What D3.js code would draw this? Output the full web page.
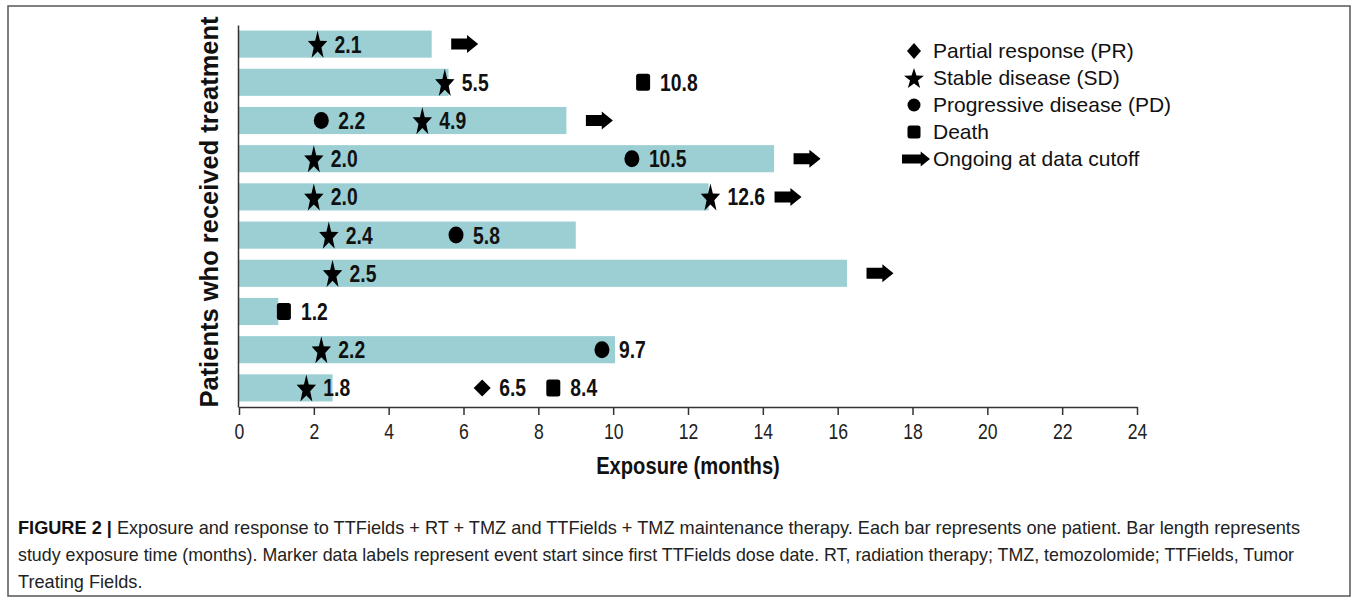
<!DOCTYPE html>
<html><head><meta charset="utf-8">
<script src="https://cdn.jsdelivr.net/npm/d3@7"></script>
<style>body{margin:0;background:#fff}</style>
</head><body><svg id="c" width="1357" height="598"></svg>
<script>
// ---- data ----
const patients = ["1","2","3","4","5","6","7","8","9","10"];
const exposure = [5.15, 5.6, 8.75, 14.3, 12.55, 9.0, 16.25, 1.05, 10.05, 2.5];
const ongoing  = [true, false, true, true, true, false, true, false, false, false];
// [patient index, months]
const partialResponse   = [[9, 6.5]];
const stableDisease     = [[0, 2.1],[1, 5.5],[2, 4.9],[3, 2.0],[4, 2.0],[4, 12.6],[5, 2.4],[6, 2.5],[8, 2.2],[9, 1.8]];
const progressiveDisease= [[2, 2.2],[3, 10.5],[5, 5.8],[8, 9.7]];
const death             = [[1, 10.8],[7, 1.2],[9, 8.4]];
const xTicks = [0,2,4,6,8,10,12,14,16,18,20,22,24];
const legendLabels = ["Partial response (PR)","Stable disease (SD)","Progressive disease (PD)","Death","Ongoing at data cutoff"];
const xTitle = "Exposure (months)";
const yTitle = "Patients who received treatment";
const captionBold = "FIGURE 2 |";
const captionLines = [
  " Exposure and response to TTFields + RT + TMZ and TTFields + TMZ maintenance therapy. Each bar represents one patient. Bar length represents",
  "study exposure time (months). Marker data labels represent event start since first TTFields dose date. RT, radiation therapy; TMZ, temozolomide; TTFields, Tumor",
  "Treating Fields."
];

// ---- drawing ----
const svg = d3.select("#c");
const SANS = "'Liberation Sans',Arial,Helvetica,sans-serif";
function condense(sel, f){
  sel.each(function(){
    const w = this.getComputedTextLength();
    this.__w = w*f;
    d3.select(this).attr("textLength", w*f).attr("lengthAdjust","spacingAndGlyphs");
  });
}

svg.append("rect").attr("x",8).attr("y",6).attr("width",1342).attr("height",590)
  .attr("fill","none").attr("stroke","#555").attr("stroke-width",1.5);

const x = d3.scaleLinear().domain([0,24]).range([239,1137]);
const y = d3.scaleBand().domain(patients).range([25,407]).paddingInner(0.29).paddingOuter(0.145);
const cy = i => y(patients[i]) + y.bandwidth()/2;

// bars
svg.append("g").selectAll("rect").data(exposure).join("rect")
  .attr("x", x(0)).attr("y",(d,i)=>y(patients[i]))
  .attr("width", d=>x(d)-x(0)).attr("height", y.bandwidth())
  .attr("fill","#9bcfd3");

// axes
const gx = svg.append("g").attr("transform",`translate(0,${407})`)
  .call(d3.axisBottom(x).tickValues(xTicks).tickSize(8).tickSizeOuter(0).tickPadding(8).tickFormat(d3.format("d")));
gx.select(".domain").attr("stroke","#333").attr("stroke-width",1.5);
gx.selectAll(".tick line").attr("stroke","#333").attr("stroke-width",1.5);
gx.selectAll(".tick text").attr("font-family",SANS).attr("font-size",22).attr("fill","#222").call(condense,0.8);

const gy = svg.append("g").attr("transform",`translate(${238},0)`)
  .call(d3.axisLeft(y).tickValues([]).tickSizeOuter(0));
gy.select(".domain").attr("stroke","#333").attr("stroke-width",1.5);

svg.append("text").attr("x",688).attr("y",474).attr("text-anchor","middle")
  .attr("font-family",SANS).attr("font-weight","bold").attr("font-size",24).attr("fill","#111").text(xTitle)
  .call(condense,0.84);
svg.append("text").attr("transform","translate(218,212) rotate(-90)").attr("text-anchor","middle")
  .attr("font-family",SANS).attr("font-weight","bold").attr("font-size",25.5).attr("fill","#111").text(yTitle);

// marker shapes
function starPath(R, sx){
  const r = R*0.40, pts=[];
  for(let k=0;k<10;k++){
    const a = -Math.PI/2 + k*Math.PI/5, rr = k%2?r:R;
    pts.push([Math.cos(a)*rr*sx, Math.sin(a)*rr + R*0.1]);
  }
  return "M"+pts.map(p=>p.join(",")).join("L")+"Z";
}
const shapes = {
  pr: (w,h)=>`M0,${-h/2}L${w/2},0L0,${h/2}L${-w/2},0Z`,
  sd: (R,sx)=>starPath(R,sx),
  pd: (w,h)=>`M${-w/2},0A${w/2},${h/2} 0 1 1 ${w/2},0A${w/2},${h/2} 0 1 1 ${-w/2},0Z`,
  death: (w,h)=>{const r=2.5,a=w/2,b=h/2;return `M${-a+r},${-b}H${a-r}Q${a},${-b} ${a},${-b+r}V${b-r}Q${a},${b} ${a-r},${b}H${-a+r}Q${-a},${b} ${-a},${b-r}V${-b+r}Q${-a},${-b} ${-a+r},${-b}Z`;},
  arrow: (w,h,s)=>`M${-w/2},${-s/2}H${w/2-h*0.62}V${-h/2}L${w/2},0L${w/2-h*0.62},${h/2}V${s/2}H${-w/2}Z`
};
const markerPaths = {pr:shapes.pr(17,17), sd:shapes.sd(15,0.68), pd:shapes.pd(15,17), death:shapes.death(14,17)};

const events = [].concat(
  partialResponse.map(d=>({t:"pr",p:d[0],v:d[1]})),
  stableDisease.map(d=>({t:"sd",p:d[0],v:d[1]})),
  progressiveDisease.map(d=>({t:"pd",p:d[0],v:d[1]})),
  death.map(d=>({t:"death",p:d[0],v:d[1]}))
);
const gm = svg.append("g");
gm.selectAll("path").data(events).join("path")
  .attr("d",d=>markerPaths[d.t]).attr("fill","#000")
  .attr("transform",d=>`translate(${x(d.v)},${cy(d.p)})`);
const labels = gm.selectAll("text").data(events).join("text")
  .attr("x",d=>x(d.v)+17).attr("y",d=>cy(d.p)+8.5)
  .attr("font-family",SANS).attr("font-weight","bold").attr("font-size",23).attr("fill","#111")
  .text(d=>d.v.toFixed(1)).call(condense,0.84);

// ongoing arrows: placed just after bar end, or after the last label if it extends past
const rightEdge = exposure.map(d=>x(d)+33);
labels.each(function(d){ const e = x(d.v)+17+this.__w+23; if(e>rightEdge[d.p]) rightEdge[d.p]=e; });
svg.append("g").selectAll("path").data(exposure.map((d,i)=>i).filter(i=>ongoing[i])).join("path")
  .attr("d",shapes.arrow(27,18,11)).attr("fill","#000")
  .attr("transform",i=>`translate(${rightEdge[i]},${cy(i)})`);

// legend
const legendKeys = ["pr","sd","pd","death","arrow"];
const legendPaths = {pr:shapes.pr(14,16), sd:starPath(11,0.95), pd:shapes.pd(13,13), death:shapes.death(13,13), arrow:shapes.arrow(28,15,9)};
const gl = svg.append("g");
legendKeys.forEach((k,i)=>{
  const base = 58 + i*27;
  gl.append("path").attr("d",legendPaths[k]).attr("fill","#000")
    .attr("transform",`translate(${k==="arrow"?916:914},${base-7})`);
  gl.append("text").attr("x",933).attr("y",base).attr("font-family",SANS).attr("font-size",21).attr("fill","#111").text(legendLabels[i]);
});

// caption
const cap = svg.append("g").attr("font-family",SANS).attr("font-size",18.5).attr("fill","#222");
const t1 = cap.append("text").attr("x",18).attr("y",534);
t1.append("tspan").attr("font-weight","bold").attr("fill","#111").text(captionBold);
t1.append("tspan").text(captionLines[0]);
const t2 = cap.append("text").attr("x",18).attr("y",561).text(captionLines[1]);
const t3 = cap.append("text").attr("x",18).attr("y",588).text(captionLines[2]);
const ratio = 1282 / t1.node().getComputedTextLength();
t1.attr("textLength",1282).attr("lengthAdjust","spacingAndGlyphs");
t2.attr("textLength",1276).attr("lengthAdjust","spacingAndGlyphs");
t3.attr("textLength",t3.node().getComputedTextLength()*ratio).attr("lengthAdjust","spacingAndGlyphs");
</script></body></html>
